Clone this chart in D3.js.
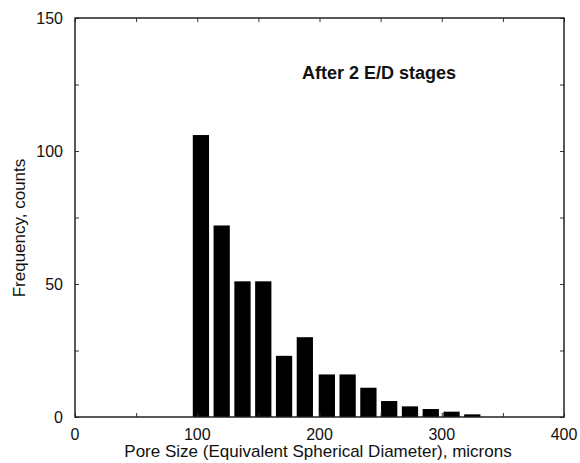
<!DOCTYPE html>
<html>
<head>
<meta charset="utf-8">
<script src="https://cdn.jsdelivr.net/npm/d3@7"></script>
<style>
  body { margin: 0; background: #fff; }
  text { font-family: "Liberation Sans", Arial, sans-serif; fill: #111; }
</style>
</head>
<body>
<svg id="chart" width="580" height="463"></svg>
<script>
// bin centres (microns) and counts
const binCenters = [103, 120, 137, 154, 171, 188, 206, 223, 240, 257, 274, 291, 308, 325];
const counts = [106, 72, 51, 51, 23, 30, 16, 16, 11, 6, 4, 3, 2, 1];
const xTicks = [0, 100, 200, 300, 400];
const yTicks = [0, 50, 100, 150];
const binWidth = 13.3;

const svg = d3.select("#chart");
const margin = {left: 75, right: 16, top: 18, bottom: 46};
const W = 580, H = 463;

const x = d3.scaleLinear().domain([0, 400]).range([margin.left, W - margin.right]);
const y = d3.scaleLinear().domain([0, 150]).range([H - margin.bottom, margin.top]);

// bars
svg.append("g").selectAll("rect")
  .data(binCenters)
  .join("rect")
    .attr("x", d => x(d - binWidth / 2))
    .attr("width", d => x(d + binWidth / 2) - x(d - binWidth / 2))
    .attr("y", (d, i) => y(counts[i]))
    .attr("height", (d, i) => y(0) - y(counts[i]))
    .attr("fill", "#000");

const minorX = d3.range(0, 401, 50), minorY = d3.range(0, 151, 25);

// inward ticks on all four sides
const axes = [
  d3.axisBottom(x).tickValues(minorX).tickSize(-4).tickFormat(""),
  d3.axisTop(x).tickValues(minorX).tickSize(-4).tickFormat(""),
  d3.axisLeft(y).tickValues(minorY).tickSize(-4).tickFormat(""),
  d3.axisRight(y).tickValues(minorY).tickSize(-4).tickFormat("")
];
const pos = [
  `translate(0,${y(0)})`, `translate(0,${y(150)})`,
  `translate(${x(0)},0)`, `translate(${x(400)},0)`
];
axes.forEach((a, i) => {
  const g = svg.append("g").attr("transform", pos[i]).call(a);
  g.select(".domain").remove();
  g.selectAll("line").attr("stroke", "#333");
});

// frame
svg.append("rect")
  .attr("x", x(0)).attr("y", y(150))
  .attr("width", x(400) - x(0)).attr("height", y(0) - y(150))
  .attr("fill", "none").attr("stroke", "#222").attr("stroke-width", 1.5);

// tick labels
svg.append("g").selectAll("text")
  .data(xTicks)
  .join("text")
    .attr("x", d => x(d))
    .attr("y", y(0) + 23)
    .attr("text-anchor", "middle")
    .style("font-size", "16px")
    .text(d => d);

svg.append("g").selectAll("text")
  .data(yTicks)
  .join("text")
    .attr("x", x(0) - 12)
    .attr("y", d => y(d) + 6)
    .attr("text-anchor", "end")
    .style("font-size", "16px")
    .text(d => d);

// axis titles
svg.append("text")
  .attr("x", 318).attr("y", 457)
  .attr("text-anchor", "middle")
  .style("font-size", "17px")
  .text("Pore Size (Equivalent Spherical Diameter), microns");

svg.append("text")
  .attr("transform", "translate(25,228) rotate(-90)")
  .attr("text-anchor", "middle")
  .style("font-size", "17px")
  .text("Frequency, counts");

svg.append("text")
  .attr("x", 302).attr("y", 79)
  .style("font-size", "18px")
  .style("font-weight", "bold")
  .text("After 2 E/D stages");
</script>
</body>
</html>
